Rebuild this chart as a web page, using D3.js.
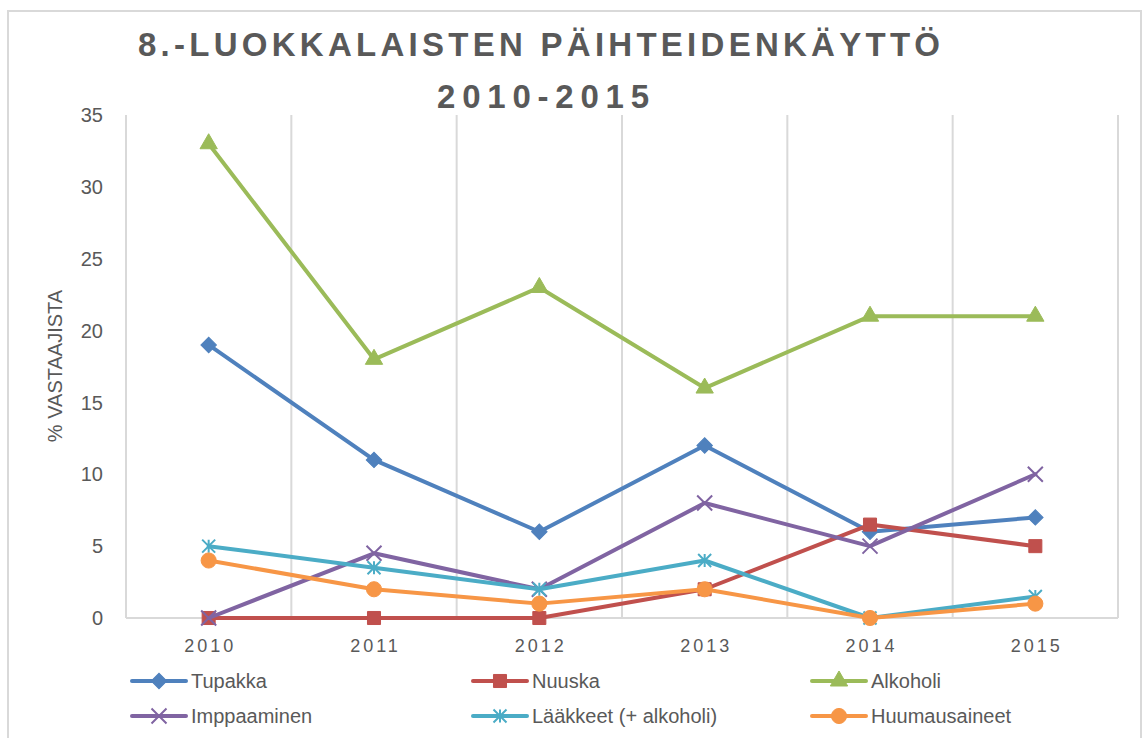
<!DOCTYPE html>
<html>
<head>
<meta charset="utf-8">
<script src="https://cdn.jsdelivr.net/npm/d3@7"></script>
<style>
    body, html {
        margin: 0;
        padding: 0;
        background: #fff;
        font-family: "Liberation Sans", Arial, sans-serif;
    }
    text { fill: #595959; }
</style>
</head>
<body>
<div id="container"></div>
<script>
    // data
    const years = ["2010", "2011", "2012", "2013", "2014", "2015"];
    const seriesNames = ["Tupakka", "Nuuska", "Alkoholi", "Imppaaminen", "Lääkkeet (+ alkoholi)", "Huumausaineet"];
    const tupakka = [19, 11, 6, 12, 6, 7];
    const nuuska = [0, 0, 0, 2, 6.5, 5];
    const alkoholi = [33, 18, 23, 16, 21, 21];
    const imppaaminen = [0, 4.5, 2, 8, 5, 10];
    const laakkeet = [5, 3.5, 2, 4, 0, 1.5];
    const huumausaineet = [4, 2, 1, 2, 0, 1];
    const yTicks = [0, 5, 10, 15, 20, 25, 30, 35];

    const colors = ["#4F81BD", "#C0504D", "#9BBB59", "#8064A2", "#4BACC6", "#F79646"];
    const values = [tupakka, nuuska, alkoholi, imppaaminen, laakkeet, huumausaineet];

    const width = 1143, height = 738;
    const svg = d3.select("#container").append("svg")
        .attr("width", width)
        .attr("height", height);

    // chart border
    svg.append("rect")
        .attr("x", 8).attr("y", 11)
        .attr("width", 1133).attr("height", 740)
        .attr("fill", "none")
        .attr("stroke", "#d9d9d9")
        .attr("stroke-width", 2);

    // title
    const title = svg.append("g")
        .attr("font-weight", "bold")
        .attr("font-size", 33);
    title.append("text")
        .attr("x", 138).attr("y", 56)
        .attr("textLength", 802)
        .attr("lengthAdjust", "spacing")
        .text("8.-LUOKKALAISTEN PÄIHTEIDENKÄYTTÖ");
    title.append("text")
        .attr("x", 437).attr("y", 108)
        .attr("textLength", 212)
        .attr("lengthAdjust", "spacing")
        .text("2010-2015");

    const x = d3.scaleBand().domain(years).range([126, 1118]);
    const y = d3.scaleLinear().domain([0, 35]).range([618, 115]);
    const cx = d => x(d) + x.bandwidth() / 2;

    // vertical gridlines at category boundaries
    const bounds = years.map(d => x(d)).concat([x.range()[1]]);
    svg.append("g").selectAll("line")
        .data(bounds)
        .join("line")
        .attr("x1", d => d).attr("x2", d => d)
        .attr("y1", y(35)).attr("y2", y(0))
        .attr("stroke", "#d9d9d9")
        .attr("stroke-width", 2);

    // baseline
    svg.append("line")
        .attr("x1", x.range()[0]).attr("x2", x.range()[1])
        .attr("y1", y(0)).attr("y2", y(0))
        .attr("stroke", "#d9d9d9")
        .attr("stroke-width", 2);

    // y tick labels
    svg.append("g").selectAll("text")
        .data(yTicks)
        .join("text")
        .attr("x", 103)
        .attr("y", d => y(d))
        .attr("dy", "0.36em")
        .attr("text-anchor", "end")
        .attr("font-size", 20)
        .text(d => d);

    // x tick labels
    svg.append("g").selectAll("text")
        .data(years)
        .join("text")
        .attr("x", d => cx(d) + 1.5)
        .attr("y", 652)
        .attr("text-anchor", "middle")
        .attr("font-size", 18)
        .attr("letter-spacing", 3)
        .text(d => d);

    // y axis title
    svg.append("text")
        .attr("transform", "translate(62,366) rotate(-90)")
        .attr("text-anchor", "middle")
        .attr("font-size", 20)
        .text("% VASTAAJISTA");

    // markers
    const starPath = r => `M${-r},${-r}L${r},${r}M${-r},${r}L${r},${-r}M0,${-r}L0,${r}`;
    const markers = [
        { path: d3.symbol(d3.symbolSquare, 120)(), rotate: 45, fill: true },
        { path: d3.symbol(d3.symbolSquare, 170)(), rotate: 0, fill: true },
        { path: d3.symbol(d3.symbolTriangle, 130)(), rotate: 0, fill: true },
        { path: starPath(7.5).replace(/M0.*$/, ""), rotate: 0, fill: false },
        { path: starPath(6.5), rotate: 0, fill: false },
        { path: d3.symbol(d3.symbolCircle, 180)(), rotate: 0, fill: true }
    ];

    function drawMarker(g, i) {
        const m = markers[i];
        g.append("path")
            .attr("d", m.path)
            .attr("transform", `rotate(${m.rotate})`)
            .attr("fill", m.fill ? colors[i] : "none")
            .attr("stroke", colors[i])
            .attr("stroke-width", m.fill ? 1 : 2);
    }

    const line = d3.line()
        .x((d, i) => cx(years[i]))
        .y(d => y(d));

    values.forEach((vals, i) => {
        const g = svg.append("g");
        g.append("path")
            .attr("d", line(vals))
            .attr("fill", "none")
            .attr("stroke", colors[i])
            .attr("stroke-width", 4)
            .attr("stroke-linejoin", "round")
            .attr("stroke-linecap", "round");
        g.selectAll("g")
            .data(vals)
            .join("g")
            .attr("transform", (d, j) => `translate(${cx(years[j])},${y(d)})`)
            .each(function () { drawMarker(d3.select(this), i); });
    });

    // legend
    const legendCols = [132, 473, 812];
    const legendRows = [681, 716];
    const legend = svg.append("g").selectAll("g")
        .data(seriesNames)
        .join("g")
        .attr("transform", (d, i) => `translate(${legendCols[i % 3]},${legendRows[Math.floor(i / 3)]})`);
    legend.append("line")
        .attr("x1", 0).attr("x2", 54)
        .attr("stroke", (d, i) => colors[i])
        .attr("stroke-width", 4)
        .attr("stroke-linecap", "round");
    legend.append("g")
        .attr("transform", "translate(27,0)")
        .each(function (d, i) { drawMarker(d3.select(this), i); });
    legend.append("text")
        .attr("x", 59)
        .attr("dy", "0.36em")
        .attr("font-size", 20)
        .text(d => d);
</script>
</body>
</html>
